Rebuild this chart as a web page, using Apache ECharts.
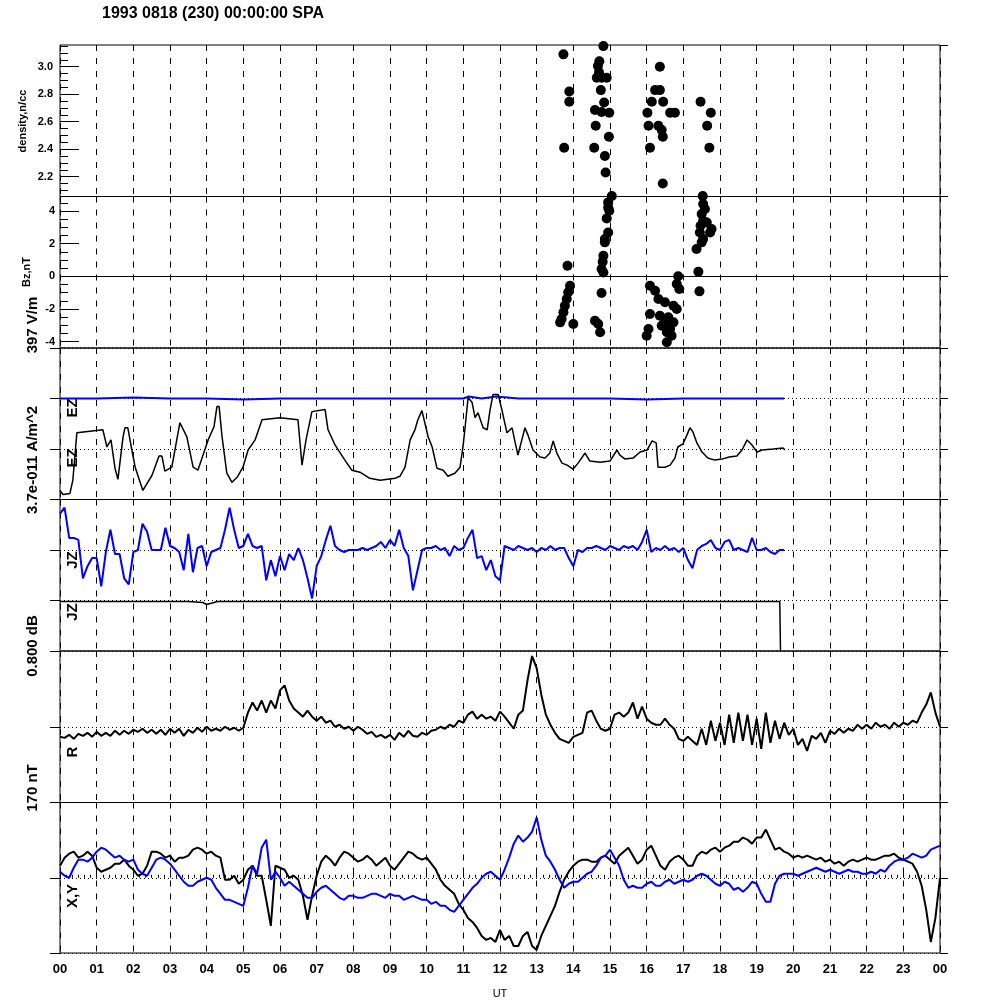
<!DOCTYPE html>
<html><head><meta charset="utf-8">
<script src="https://cdn.jsdelivr.net/npm/echarts@6/dist/echarts.min.js"></script>
<style>html,body{margin:0;padding:0;background:#fff}#c{width:1000px;height:1000px}</style>
</head><body><div id="c"></div>
<script>
// ---- tick labels ----
const hourLabels = ['00','01','02','03','04','05','06','07','08','09','10','11','12','13','14','15','16','17','18','19','20','21','22','23','00'];
const densityMajorTicks = [2.2, 2.4, 2.6, 2.8, 3.0];
const densityMinorTicks = [2.1, 2.15, 2.25, 2.3, 2.35, 2.45, 2.5, 2.55, 2.65, 2.7, 2.75, 2.85, 2.9, 2.95, 3.05, 3.1, 3.15];
const bzMajorTicks = [-4, -2, 0, 2, 4];
const bzMinorTicks = [-3.5, -3, -2.5, -1.5, -1, -0.5, 0.5, 1, 1.5, 2.5, 3, 3.5, 4.5];

// ---- density (n/cc), time in UT hours ----
const densityTime  = [13.73,14.82,14.71,14.67,14.70,14.64,14.77,14.91,16.36,13.89,13.89,14.75,14.84,14.59,14.77,14.98,14.61,14.97,13.75,14.57,14.86,14.88,15.05,16.23,16.36,16.14,16.45,16.02,16.64,16.77,16.05,16.32,16.41,16.44,16.09,16.44,17.47,17.75,17.65,17.71,17.53];
const densityValue = [3.09, 3.15, 3.04, 3.005,2.96, 2.92, 2.92, 2.92, 3.0,  2.82, 2.745,2.83, 2.74, 2.685,2.67, 2.665,2.57, 2.49, 2.41, 2.41, 2.35, 2.23, 2.06, 2.83, 2.83, 2.745,2.745,2.665,2.665,2.665,2.57, 2.57, 2.54, 2.49, 2.41, 2.15, 2.745,2.665,2.57, 2.41, 2.06];

// ---- Bz (nT) ----
const bzTime  = [15.0,14.95,14.95,14.98,14.91,14.95,14.86,14.86,14.82,14.80,14.77,14.82,13.84,17.53,17.54,17.50,17.54,17.47,17.64,17.73,17.54,17.36,17.50,17.59,17.77,17.45,17.41,17.44,16.86,16.82,16.89,13.91,13.86,13.82,13.77,13.73,13.68,13.64,14.0,14.77,14.59,14.68,14.73,16.09,16.23,16.32,16.50,16.73,16.82,16.09,16.36,16.50,16.64,16.68,16.55,16.05,16.0,16.59,16.73,16.41,16.55];
const bzValue = [4.9, 4.53, 4.22, 4.02, 3.55, 2.69, 2.28, 2.08, 1.26, 0.89, 0.45, 0.24, 0.65, 4.98, 4.43, 3.82, 3.4, 3.1, 3.3, 2.69, 2.28, 1.67, 2.08, 4.12, 2.9, 2.69, 0.28, -0.92,0, -0.47,-0.78,-0.58,-0.98,-1.39,-1.8,-2.2,-2.61,-2.82,-2.92,-1.02,-2.72,-2.92,-3.43,-0.58,-0.88,-1.39,-1.59,-1.8,-2.0,-2.31,-2.41,-2.82,-3.23,-3.64,-4.04,-3.23,-3.64,-2.51,-2.82,-3.03,-3.43];

// ---- EZ (relative units, each trace about its own baseline) ----
const ezUpperTime  = [0, 1, 2, 3, 4, 5, 6, 7, 8, 9, 10, 11, 11.15, 11.5, 11.9, 12.5, 13, 14, 15, 16, 17, 18, 19, 19.75];
const ezUpperValue = [0, 0, 1, 0, 0, -1, 0, 0, 0, 0, 0, 0, 2, 0, 2, 0, 0, 0, 0, -1, 0, 0, 0, 0];
const ezLowerTime  = [0,0.08,0.27,0.35,0.46,1.17,1.28,1.39,1.5,1.58,1.72,1.77,1.85,1.96,2.05,2.26,2.51,2.7,2.78,2.86,3.05,3.27,3.46,3.63,3.76,4.04,4.2,4.28,4.34,4.42,4.55,4.69,4.83,4.99,5.13,5.32,5.51,6.0,6.49,6.6,6.71,6.87,7.23,7.31,7.5,7.77,7.96,8.18,8.45,8.73,9.14,9.27,9.41,9.55,9.68,9.76,9.87,9.93,10.04,10.15,10.28,10.45,10.58,10.77,10.91,10.99,11.05,11.13,11.24,11.32,11.4,11.54,11.65,11.73,11.81,11.95,12.05,12.19,12.33,12.41,12.49,12.68,12.76,12.9,13.09,13.23,13.36,13.45,13.55,13.69,13.83,13.99,14.13,14.32,14.45,14.73,15.0,15.19,15.27,15.41,15.63,15.82,16.01,16.15,16.26,16.31,16.5,16.64,16.77,16.85,16.99,17.1,17.18,17.26,17.37,17.51,17.67,17.86,18.05,18.25,18.46,18.6,18.74,18.87,19.01,19.15,19.45,19.72,19.77];
const ezLowerValue = [-41,-45,-44,-31,16,19,2,9,-19,-30,12,21,21,-1,-18,-41,-26,-7,-7,-22,-18,26,12,-18,-21,9,22,42,42,12,-24,-33,-28,-18,-1,9,29,31,29,-16,9,37,39,19,4,-11,-21,-23,-29,-31,-29,-27,-18,9,19,29,38,29,12,2,-19,-21,-27,-24,-18,2,22,51,46,31,36,21,19,39,54,54,39,16,21,7,-6,21,14,-1,-8,-9,-4,8,-4,-14,-16,-20,-14,-4,-12,-13,-12,-1,-6,-10,-9,-3,-1,8,6,-18,-18,-16,-9,2,5,14,21,17,6,-3,-9,-11,-10,-8,-7,-1,9,4,-3,-1,0,1,-1];

// ---- JZ (relative units) ----
const jzStep = 0.125;
const jzUpperValue = [36,42,12,12,10,-28,-16,-8,-8,-36,-2,20,-4,-4,-28,-34,-2,0,26,18,0,0,0,22,4,2,-2,-20,16,-22,2,4,-16,-2,0,2,20,42,20,2,4,16,4,2,4,-30,-10,-26,-6,-20,-4,-10,2,-10,-28,-48,-16,-6,10,24,4,0,-2,0,0,0,2,0,2,4,8,2,10,4,20,2,-6,-40,-20,0,2,2,4,0,2,-6,4,0,2,12,20,-8,-6,-20,-10,-26,-30,4,2,0,4,2,0,2,-2,2,0,4,0,2,2,-8,-16,0,-2,2,2,4,2,0,4,2,0,4,2,4,0,8,20,-2,2,0,4,0,2,-2,2,-10,-18,0,4,6,10,2,0,8,10,0,2,0,-2,12,0,0,2,-2,-4,0,0];
const jzLowerTime  = [0, 2, 3.5, 3.9, 4.0, 4.1, 4.3, 5, 8, 10, 12, 14, 16, 18, 19.63, 19.65];
const jzLowerValue = [-1, -1, -1, -2, -4, -3, -1, -1, -1, -1, -1, -1, -1, -1, -1, -50];

// ---- R (relative units), every 0.125 h ----
const rStep = 0.125;
const rValue = [-10,-11,-8,-12,-7,-9,-6,-10,-5,-9,-6,-9,-4,-8,-4,-7,-3,-5,-2,-6,-3,-7,-3,-8,-2,-6,-2,-9,-3,-6,-1,-5,0,-4,-2,-4,0,-3,-1,-4,-1,14,24,16,26,14,26,18,36,41,26,18,14,10,16,10,6,10,4,6,0,2,-2,0,-4,0,-3,-7,-5,-10,-8,-11,-8,-13,-6,-10,-4,-9,-10,-6,-8,-4,-3,0,-2,2,0,6,4,12,15,8,12,8,10,6,15,10,4,-2,12,16,46,70,58,32,12,2,-6,-12,-14,-16,-10,-8,-6,14,16,6,-2,-4,-2,12,14,10,14,24,8,20,8,4,2,2,8,2,-2,-12,-14,-10,-14,-18,-2,-18,6,-14,4,-18,12,-16,14,-14,12,-18,8,-22,14,-16,6,-12,4,-8,-2,-18,-12,-24,-9,-12,-6,-16,-4,-7,-2,-6,-2,-4,2,-2,2,-2,4,0,2,-2,4,0,4,2,6,4,14,22,34,14,0];

// ---- X, Y (relative units), every 0.125 h ----
const xyStep = 0.125;
const xValue = [12,20,24,26,20,22,26,22,10,6,8,10,14,14,18,12,8,2,4,12,26,26,24,20,22,16,20,20,22,28,30,28,24,26,22,20,-2,-2,2,-6,-2,8,12,2,2,-22,-48,12,10,8,0,2,-2,-18,-42,-18,2,16,22,18,12,20,26,24,20,16,18,22,18,12,16,20,12,8,14,20,26,24,20,18,20,14,8,-2,-8,-12,-16,-26,-32,-40,-44,-50,-58,-62,-60,-64,-52,-62,-58,-68,-68,-58,-54,-68,-72,-58,-48,-38,-28,-14,-2,6,12,16,18,18,16,16,20,22,18,14,22,26,30,22,14,18,28,32,22,12,8,16,20,22,18,12,12,22,26,24,28,30,26,30,32,36,36,40,38,34,40,40,48,38,28,30,26,24,20,22,20,22,20,18,20,16,18,14,16,12,16,18,16,18,20,18,18,20,22,22,24,20,18,16,14,6,-8,-32,-64,-40,0];
const yValue = [6,2,0,10,18,18,16,20,26,30,28,24,20,22,18,16,18,8,4,2,10,18,20,18,14,8,2,-4,-8,-8,-4,-2,0,-2,-10,-16,-22,-22,-24,-26,-28,-10,12,4,30,38,-2,6,0,-8,-4,-8,-12,-16,-20,-20,-14,-10,-8,-12,-16,-20,-22,-18,-18,-20,-20,-18,-16,-16,-18,-20,-16,-18,-18,-22,-20,-18,-20,-22,-22,-26,-24,-28,-28,-32,-34,-28,-22,-16,-10,-6,0,4,6,2,-2,8,20,34,42,36,40,46,60,38,22,16,8,-2,-10,-6,-4,-4,0,4,6,12,20,22,28,20,12,-2,-10,-8,-10,-10,-6,-4,-8,-8,-4,-2,-6,-4,-2,-4,-2,2,4,2,-2,-6,-8,-4,-6,-12,-10,-14,-10,-4,-6,-16,-24,-24,-6,2,4,4,4,2,4,6,8,10,8,6,8,6,4,6,8,6,6,4,4,6,4,8,6,12,16,18,18,20,24,22,20,22,28,30,32];

// ---- side texts ----
const titleText = '1993 0818 (230) 00:00:00 SPA';
const axisTitles = ['density,n/cc', 'Bz,nT'];
const scaleTexts = ['397 V/m', '3.7e-011 A/m^2', '0.800 dB', '170 nT'];
const traceNames = ['EZ', 'EZ', 'JZ', 'JZ', 'R', 'X,Y'];

const upperBase = 50;
const FONT = '"Liberation Sans", Arial, sans-serif';
const L = 60, RGT = 60, TOP = 45, PH = 151.5;

const grids = [], xAxes = [], yAxes = [], series = [];
for (let k = 0; k < 6; k++) {
  grids.push({left: L, right: RGT, top: TOP + PH * k, height: PH, show: true,
    borderColor: '#000', borderWidth: 1, backgroundColor: 'rgba(0,0,0,0)'});
  const last = k === 5;
  xAxes.push({type: 'value', gridIndex: k, min: 0, max: 24, interval: 1,
    axisLine: {show: false},
    axisTick: {show: last, inside: true, length: 7, lineStyle: {color: '#000', width: 1}},
    minorTick: {show: last, splitNumber: 6, length: 3, lineStyle: {color: '#000', width: 1}},
    axisLabel: {show: last, formatter: v => hourLabels[v], fontSize: 13, fontWeight: 'bold', color: '#000', margin: 10, fontFamily: FONT},
    splitLine: {show: true, lineStyle: {color: '#000', type: [6, 7], width: 1}},
    name: last ? 'UT' : '', nameLocation: 'middle', nameGap: 35,
    nameTextStyle: {fontSize: 11, color: '#000', fontFamily: FONT}});
}
function pairs(t, v, off) { return t.map((x, i) => [x, v[i] + (off || 0)]); }
function stepped(step, v, off) { return v.map((y, i) => [i * step, y + (off || 0)]); }

// panel 0: density
const densMin = 2.056, densMax = 3.158;
yAxes.push({type: 'value', gridIndex: 0, min: densMin, max: densMax, position: 'left',
  axisLine: {show: false}, splitLine: {show: false},
  axisTick: {show: true, inside: true, length: 19, customValues: densityMajorTicks, lineStyle: {color: '#000'}},
  axisLabel: {show: true, customValues: densityMajorTicks, formatter: v => v.toFixed(1), fontSize: 11, fontWeight: 'bold', color: '#000', margin: 7, fontFamily: FONT}});
yAxes.push({type: 'value', gridIndex: 0, min: densMin, max: densMax, position: 'left',
  axisLine: {show: false}, splitLine: {show: false}, axisLabel: {show: false},
  axisTick: {show: true, inside: true, length: 8, customValues: densityMinorTicks, lineStyle: {color: '#000'}}});
yAxes.push({type: 'value', gridIndex: 0, min: densMin, max: densMax, position: 'right',
  axisLine: {show: false}, splitLine: {show: false}, axisLabel: {show: false},
  axisTick: {show: true, inside: false, length: 8, customValues: [densMin, densMax], lineStyle: {color: '#000'}}});
// panel 1: Bz
const bzMin = -4.39, bzMax = 4.89;
const bzAxisIndex = yAxes.length;
yAxes.push({type: 'value', gridIndex: 1, min: bzMin, max: bzMax, position: 'left',
  axisLine: {show: false}, splitLine: {show: false},
  axisTick: {show: true, inside: true, length: 19, customValues: bzMajorTicks, lineStyle: {color: '#000'}},
  axisLabel: {show: true, customValues: bzMajorTicks, formatter: v => String(v), fontSize: 11, fontWeight: 'bold', color: '#000', margin: 5, fontFamily: FONT}});
yAxes.push({type: 'value', gridIndex: 1, min: bzMin, max: bzMax, position: 'left',
  axisLine: {show: false}, splitLine: {show: false}, axisLabel: {show: false},
  axisTick: {show: true, inside: true, length: 8, customValues: bzMinorTicks, lineStyle: {color: '#000'}}});
yAxes.push({type: 'value', gridIndex: 1, min: bzMin, max: bzMax, position: 'right',
  axisLine: {show: false}, splitLine: {show: false}, axisLabel: {show: false},
  axisTick: {show: true, inside: false, length: 8, customValues: [bzMin, 0, bzMax], lineStyle: {color: '#000'}}});
// panels 2..5
const ranges = [[-50, 100, 50], [-50, 100, 50], [-75, 75, 75], [-75, 75, 75]];
const idxLeft = [];
ranges.forEach((r, j) => {
  const g = j + 2;
  idxLeft.push(yAxes.length);
  yAxes.push({type: 'value', gridIndex: g, min: r[0], max: r[1], interval: r[2], position: 'left',
    axisLine: {show: false}, axisLabel: {show: false},
    axisTick: {show: true, inside: false, length: 10, lineStyle: {color: '#000'}},
    splitLine: {show: true, lineStyle: {color: '#000', type: [1, 3], width: 1}}});
  yAxes.push({type: 'value', gridIndex: g, min: r[0], max: r[1], interval: r[2], position: 'right',
    axisLine: {show: false}, axisLabel: {show: false}, splitLine: {show: false},
    axisTick: {show: true, inside: false, length: 8, lineStyle: {color: '#000'}}});
});

const dot = {type: 'scatter', symbol: 'circle', symbolSize: 10, itemStyle: {color: '#000', opacity: 1}, silent: true};
series.push(Object.assign({}, dot, {xAxisIndex: 0, yAxisIndex: 0, data: pairs(densityTime, densityValue)}));
series.push(Object.assign({}, dot, {xAxisIndex: 1, yAxisIndex: bzAxisIndex, data: pairs(bzTime, bzValue),
  markLine: {silent: true, symbol: 'none', label: {show: false}, lineStyle: {color: '#000', type: 'solid', width: 1}, data: [{yAxis: 0}]}}));
function line(xi, yi, data, color, w) {
  return {type: 'line', xAxisIndex: xi, yAxisIndex: yi, data: data, showSymbol: false, symbol: 'none',
    lineStyle: {color: color, width: w}, itemStyle: {color: color}, silent: true};
}
const BLUE = '#0000ff', BLACK = '#000000';
series.push(line(2, idxLeft[0], pairs(ezUpperTime, ezUpperValue, upperBase), BLUE, 2));
series.push(line(2, idxLeft[0], pairs(ezLowerTime, ezLowerValue), BLACK, 1.5));
series.push(line(3, idxLeft[1], stepped(jzStep, jzUpperValue, upperBase), BLUE, 2));
series.push(line(3, idxLeft[1], pairs(jzLowerTime, jzLowerValue), BLACK, 1.5));
series.push(line(4, idxLeft[2], stepped(rStep, rValue), BLACK, 2));
series.push(line(5, idxLeft[3], stepped(xyStep, xValue), BLACK, 2));
series.push(line(5, idxLeft[3], stepped(xyStep, yValue), BLUE, 2));

function vtext(x, y, text, size) {
  return {type: 'text', x: x, y: y, rotation: Math.PI / 2, silent: true,
    style: {text: text, font: 'bold ' + size + 'px ' + FONT, fill: '#000', align: 'center', verticalAlign: 'middle'}};
}
const graphic = [
  {type: 'text', x: 102, y: 14, silent: true, style: {text: titleText, font: 'bold 16px ' + FONT, fill: '#000', align: 'left', verticalAlign: 'middle'}},
  vtext(23, 121, axisTitles[0], 11),
  vtext(27, 272, axisTitles[1], 11),
  vtext(33, 325, scaleTexts[0], 15),
  vtext(33, 460, scaleTexts[1], 15),
  vtext(33, 646, scaleTexts[2], 15),
  vtext(33, 788, scaleTexts[3], 15),
  vtext(73, 408, traceNames[0], 15),
  vtext(73, 458, traceNames[1], 15),
  vtext(73, 560, traceNames[2], 15),
  vtext(73, 612, traceNames[3], 15),
  vtext(73, 752, traceNames[4], 15),
  vtext(73, 896, traceNames[5], 15)
];

const chart = echarts.init(document.getElementById('c'), null, {renderer: 'canvas', width: 1000, height: 1000});
chart.setOption({animation: false, backgroundColor: '#fff', grid: grids, xAxis: xAxes, yAxis: yAxes, series: series, graphic: graphic});
</script></body></html>
